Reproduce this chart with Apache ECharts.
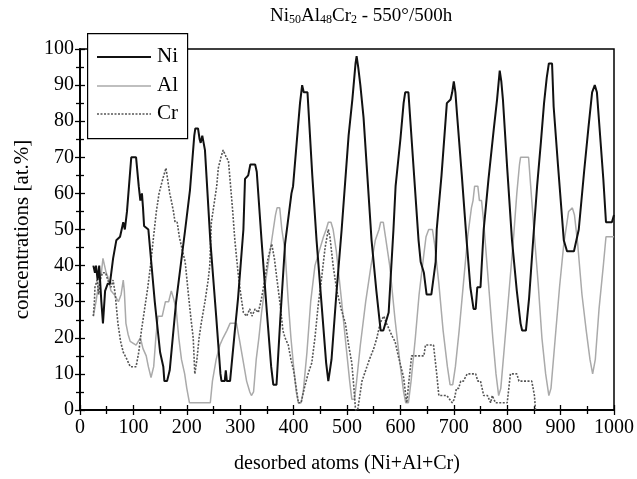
<!DOCTYPE html>
<html><head><meta charset="utf-8">
<script src="https://cdn.jsdelivr.net/npm/echarts@6/dist/echarts.min.js"></script>
<style>html,body{margin:0;padding:0;background:#fff}#c{width:637px;height:479px}</style>
</head><body><div id="c"></div>
<script>
const xTicks = [0,100,200,300,400,500,600,700,800,900,1000];
const yTicks = [0,10,20,30,40,50,60,70,80,90,100];
const seriesNames = ['Ni','Al','Cr'];
const ni = [[25,40],[28,38],[30,40],[33,36],[36,40],[40,30],[43,24],[47,33],[52,35],[56,35],[62,42],[68,47],[75,48],[81,52],[84,50],[88,55],[96,70],[105,70],[110,62],[113,58],[116,60],[118,56],[120,51],[128,50],[140,30],[150,16],[156,12],[158,8],[163,8],[168,11],[180,30],[197,50],[206,61],[214,76],[216,78],[221,78],[224,75],[226,74],[229,76],[234,72],[244,47],[255,26],[263,10],[265,8],[271,8],[273,11],[275,8],[281,8],[290,22],[296,31],[306,50],[309,64],[315,65],[319,68],[328,68],[331,66],[340,47],[350,27],[358,12],[362,7],[368,7],[375,25],[384,46],[396,60],[399,62],[408,78],[412,85],[416,90],[419,88],[426,88],[435,65],[443,47],[452,30],[461,13],[465,8],[468,11],[471,14],[480,32],[490,50],[503,76],[510,86],[516,96],[518,98],[521,95],[525,90],[531,81],[546,47],[555,33],[563,22],[568,22],[578,27],[587,50],[591,62],[600,75],[606,85],[609,88],[615,88],[621,75],[634,47],[638,41],[644,38],[649,32],[658,32],[666,41],[668,50],[677,65],[685,81],[687,85],[694,86],[697,88],[700,91],[703,88],[706,82],[715,65],[724,47],[731,34],[737,28],[741,28],[744,34],[750,34],[756,50],[765,64],[775,78],[781,86],[786,94],[789,91],[792,86],[800,67],[809,47],[818,33],[825,24],[828,22],[835,22],[841,31],[850,50],[856,62],[863,74],[869,85],[874,92],[878,96],[884,96],[887,84],[895,68],[906,47],[912,44],[925,44],[928,46],[934,50],[944,66],[952,78],[959,88],[964,90],[968,88],[972,80],[980,64],[985,52],[996,52],[1000,54]];
const al = [[25,26],[30,30],[35,35],[40,38],[43,42],[49,38],[52,37],[58,33],[64,32],[68,31],[72,30],[77,32],[81,36],[83,33],[86,24],[90,21],[94,19],[105,18],[113,20],[118,17],[124,15],[128,12],[133,9],[138,12],[142,20],[146,26],[154,26],[160,30],[166,30],[171,33],[175,31],[180,28],[185,20],[190,14],[196,10],[200,6],[205,2],[244,2],[248,8],[255,14],[262,18],[268,20],[275,22],[281,24],[293,24],[298,20],[305,14],[312,8],[318,5],[321,4],[325,5],[330,14],[335,20],[340,27],[348,36],[356,44],[362,50],[366,54],[369,56],[374,56],[378,50],[384,44],[390,30],[395,20],[400,12],[405,5],[409,2],[414,2],[418,5],[425,16],[432,30],[440,40],[448,44],[456,48],[461,50],[465,52],[470,52],[474,50],[480,44],[490,30],[498,18],[505,8],[509,3],[514,3],[518,8],[525,18],[535,30],[545,40],[553,47],[560,50],[563,52],[568,52],[572,48],[580,40],[590,25],[600,12],[606,5],[610,2],[615,2],[620,8],[628,20],[635,32],[643,42],[648,48],[653,50],[660,50],[664,46],[672,35],[680,22],[688,12],[693,7],[698,7],[703,12],[710,22],[718,35],[726,48],[733,56],[736,58],[739,62],[745,62],[748,58],[752,58],[756,52],[765,35],[773,20],[779,10],[784,4],[788,6],[795,18],[803,32],[812,48],[818,60],[823,68],[825,70],[840,70],[844,62],[850,50],[858,35],[865,20],[872,10],[878,4],[882,6],[890,20],[898,34],[906,46],[912,52],[915,55],[922,56],[926,54],[932,46],[940,32],[948,22],[955,14],[960,10],[965,14],[972,28],[980,40],[985,48],[1000,48]];
const cr = [[25,26],[27,30],[28,34],[32,36],[35,32],[38,36],[42,38],[48,38],[52,36],[58,34],[62,36],[66,32],[71,24],[76,19],[81,16],[88,14],[94,12],[105,12],[110,16],[115,22],[121,28],[127,34],[132,40],[137,47],[143,55],[148,60],[155,64],[161,67],[164,64],[168,60],[171,58],[175,55],[178,52],[182,52],[186,48],[192,44],[197,41],[203,32],[208,25],[212,20],[215,10],[219,14],[223,20],[227,24],[234,30],[240,36],[243,40],[246,52],[252,58],[256,62],[259,67],[264,70],[268,72],[274,70],[278,69],[282,62],[286,55],[290,47],[296,38],[301,32],[306,27],[312,26],[318,28],[322,26],[328,28],[334,27],[340,31],[346,36],[352,42],[359,46],[364,42],[369,36],[375,29],[380,22],[384,20],[390,18],[395,14],[400,11],[405,6],[409,2],[414,2],[420,6],[427,10],[434,13],[440,20],[446,29],[452,36],[459,45],[465,50],[468,48],[474,40],[481,33],[489,28],[497,24],[503,18],[509,13],[513,6],[516,0],[520,0],[524,4],[528,8],[535,11],[542,14],[550,17],[556,20],[562,24],[565,25],[569,26],[574,24],[580,22],[586,20],[590,19],[596,15],[601,12],[606,9],[610,4],[612,2],[616,8],[621,15],[644,15],[647,18],[662,18],[668,10],[672,4],[687,4],[692,3],[697,2],[701,3],[705,6],[709,6],[713,8],[718,8],[725,10],[741,10],[745,8],[750,8],[756,4],[763,4],[769,2],[772,4],[775,4],[778,2],[800,2],[806,10],[818,10],[822,8],[846,8],[851,4],[853,0]];

const FONT = 'Liberation Serif';
const COLORS = ['#111','#aaa','#555'];
const WIDTHS = [2,1.5,1.6];
const DASH = ['solid','solid',[2,1.5]];
const chart = echarts.init(document.getElementById('c'), null, {renderer:'canvas'});
function xAx(inside, labels){
  return {type:'value', min:xTicks[0], max:xTicks[xTicks.length-1], interval:100, position:'bottom',
    axisLine:{show:true, lineStyle:{color:'#000', width:1.5}},
    axisTick:{show:true, inside:inside, length:5, lineStyle:{color:'#000', width:1.3}},
    minorTick:{show:true, splitNumber:2, length:4, lineStyle:{color:'#000', width:1.3}},
    splitLine:{show:false},
    axisLabel:{show:labels, color:'#000', fontFamily:FONT, fontSize:20, margin:8, formatter:v=>String(v)},
    name: labels ? 'desorbed atoms (Ni+Al+Cr)' : '', nameLocation:'middle', nameGap:44,
    nameTextStyle:{color:'#000', fontFamily:FONT, fontSize:20}};
}
function yAx(inside, labels){
  return {type:'value', min:yTicks[0], max:yTicks[yTicks.length-1], interval:10, position:'left',
    axisLine:{show:true, lineStyle:{color:'#000', width:1.5}},
    axisTick:{show:true, inside:inside, length:5, lineStyle:{color:'#000', width:1.3}},
    minorTick:{show:true, splitNumber:2, length:4, lineStyle:{color:'#000', width:1.3}},
    splitLine:{show:false},
    axisLabel:{show:labels, color:'#000', fontFamily:FONT, fontSize:20, margin:6, formatter:v=>String(v)},
    name: labels ? 'concentrations [at.%]' : '', nameLocation:'middle', nameGap:47,
    nameTextStyle:{color:'#000', fontFamily:FONT, fontSize:21}};
}
const legendEls = [{type:'rect', left:87, top:33, shape:{width:100, height:105}, style:{fill:'#fff', stroke:'#000', lineWidth:1.2}, z:100}];
const legendY = [57, 86, 114];
seriesNames.forEach((n,i)=>{
  legendEls.push({type:'line', shape:{x1:97, y1:legendY[i], x2:151, y2:legendY[i]},
    style:{stroke:COLORS[i], lineWidth:WIDTHS[i], lineDash: DASH[i]==='solid'?null:DASH[i]}, z:101});
  legendEls.push({type:'text', left:157, top:legendY[i]-11, style:{text:n, fill:'#000', font:'21px "Liberation Serif"'}, z:101});
});
chart.setOption({
  backgroundColor:'#fff',
  animation:false,
  title:{
    text:'Ni{s|50}Al{s|48}Cr{s|2} - 550°/500h', left:265, top:1,
    textStyle:{color:'#000', fontFamily:FONT, fontSize:19, fontWeight:'normal',
      rich:{s:{fontFamily:FONT, fontSize:12, color:'#000', verticalAlign:'bottom', padding:[8,0,0,0]}}}
  },
  grid:{left:80, right:22, top:49, bottom:68, show:true, borderColor:'#000', borderWidth:1.5, backgroundColor:'transparent'},
  xAxis:[xAx(false,true), xAx(true,false)],
  yAxis:[yAx(false,true), yAx(true,false)],
  graphic:{elements:legendEls},
  series: [ni, al, cr].map((d,i)=>({name:seriesNames[i], type:'line', data:d, symbol:'none',
    lineStyle:{color:COLORS[i], width:WIDTHS[i], type:DASH[i]}, itemStyle:{color:COLORS[i]}, z:[5,3,4][i]}))
});
</script></body></html>
